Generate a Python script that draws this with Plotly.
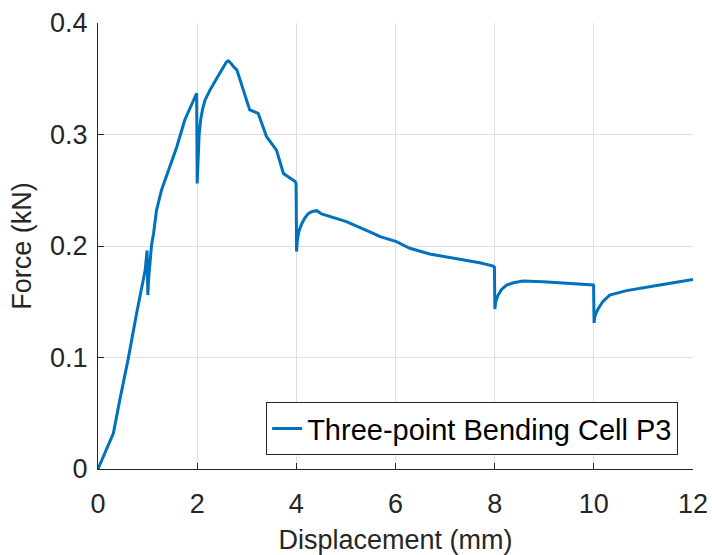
import plotly.graph_objects as go

displacement = [0, 0.31, 0.44, 0.61, 0.78, 0.95, 0.99, 1.005, 1.02, 1.05, 1.08, 1.12, 1.18,
                1.28, 1.42, 1.59, 1.75, 1.96, 1.99, 2.0, 2.01, 2.02, 2.04, 2.07, 2.11, 2.16,
                2.26, 2.39, 2.49, 2.59, 2.63, 2.68, 2.73, 2.80, 2.93, 3.06, 3.23, 3.40,
                3.60, 3.74, 3.97, 3.995, 4.005, 4.02, 4.05, 4.11, 4.17, 4.24, 4.32, 4.41,
                4.51, 5.01, 5.55, 5.69, 6.02, 6.29, 6.69, 7.23, 7.70, 7.97, 7.995, 8.005,
                8.02, 8.07, 8.14, 8.24, 8.38, 8.57, 8.98, 9.99, 9.995, 10.005, 10.02,
                10.09, 10.18, 10.32, 10.48, 10.66, 11.33, 12.0]
force = [0, 0.032, 0.062, 0.099, 0.140, 0.178, 0.196, 0.156, 0.170, 0.190, 0.201, 0.211,
         0.232, 0.250, 0.268, 0.289, 0.313, 0.333, 0.337, 0.256, 0.272, 0.286, 0.300,
         0.313, 0.323, 0.331, 0.340, 0.350, 0.358, 0.365, 0.366, 0.364, 0.361, 0.358,
         0.340, 0.322, 0.319, 0.298, 0.286, 0.265, 0.258, 0.256, 0.195, 0.205, 0.213,
         0.220, 0.225, 0.229, 0.231, 0.2317, 0.2287, 0.2218, 0.2114, 0.2084, 0.2039,
         0.198, 0.1928, 0.1883, 0.185, 0.182, 0.181, 0.1435, 0.150, 0.156, 0.161,
         0.165, 0.167, 0.1686, 0.168, 0.165, 0.164, 0.131, 0.137, 0.144, 0.150, 0.156,
         0.158, 0.160, 0.165, 0.170]

x_ticks = [0, 2, 4, 6, 8, 10, 12]
y_ticks = [0, 0.1, 0.2, 0.3, 0.4]
y_tick_labels = ["0", "0.1", "0.2", "0.3", "0.4"]

FONT = "Liberation Sans, Arial, Helvetica"
TXT = "#262626"

fig = go.Figure()
fig.add_trace(go.Scatter(
    x=displacement, y=force, mode="lines",
    name="Three-point Bending Cell P3",
    line=dict(color="#0072BD", width=3),
))

axis_common = dict(
    showgrid=True, gridcolor="#DFDFDF", gridwidth=1,
    showline=True, linecolor=TXT, linewidth=1,
    ticks="inside", ticklen=6, tickcolor=TXT,
    zeroline=False, mirror=False, automargin=False,
    tickfont=dict(family=FONT, size=27, color=TXT),
)

fig.update_layout(
    width=712, height=555,
    margin=dict(l=98, r=19, t=23, b=86),
    paper_bgcolor="white", plot_bgcolor="white",
    font=dict(family=FONT, size=27, color=TXT),
    xaxis=dict(range=[0, 12], tickvals=x_ticks, ticklabelstandoff=11,
               title=dict(text="Displacement (mm)", standoff=14,
                          font=dict(family=FONT, size=27, color=TXT)),
               **axis_common),
    yaxis=dict(range=[0, 0.4], tickvals=y_ticks, ticktext=y_tick_labels,
               ticklabelstandoff=4,
               title=dict(text="Force (kN)", standoff=10,
                          font=dict(family=FONT, size=27, color=TXT)),
               **axis_common),
    legend=dict(x=0.975, y=0.031, xanchor="right", yanchor="bottom",
                bgcolor="white", bordercolor=TXT, borderwidth=1,
                font=dict(family=FONT, size=29, color="#000000")),
    showlegend=True,
)

fig.write_html("out.html")
